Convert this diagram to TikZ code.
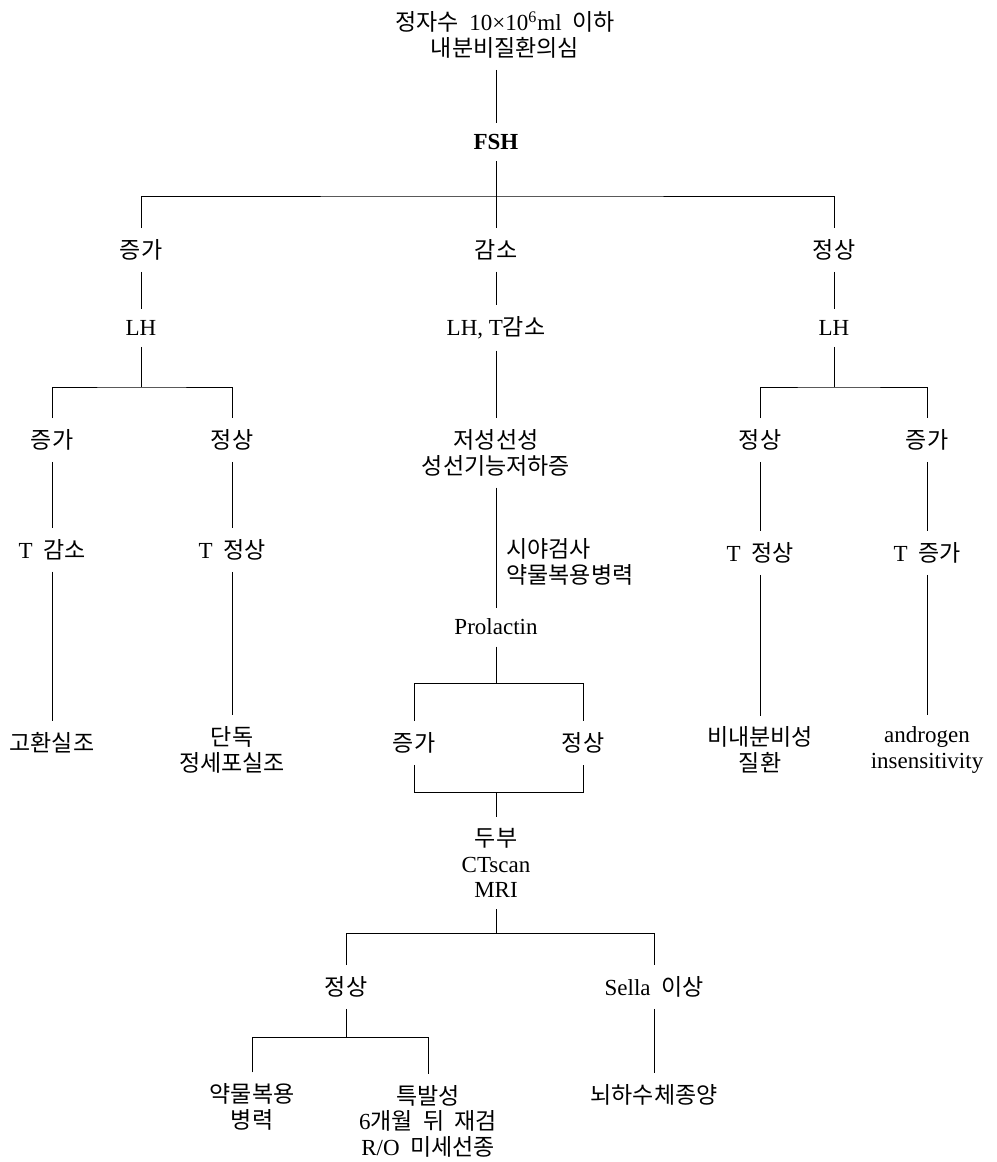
\documentclass[tikz,border=0pt]{standalone}
\usepackage{fontspec}
\setmainfont{Liberation Serif}
\newfontfamily\kr{Noto Sans CJK KR}
\newcommand{\lat}[1]{{\rmfamily #1}}
\newcommand{\gap}{\hspace{0.45em}}
\tikzset{
	item/.style = {align=center, inner xsep=2pt, inner ysep=5.5pt, font=\fontsize{11.5pt}{12.8pt}\selectfont\kr},
	note/.style = {align=left, inner xsep=5pt, font=\fontsize{11.5pt}{12.8pt}\selectfont\kr},
	link/.style = {draw, line width=0.45pt}
}

\begin{document}
\begin{tikzpicture}[x=0.5pt, y=-0.5pt]
		\useasboundingbox (0,0) rectangle (996,1162);
		
		% Start
		\node (sperm) [item] at (505,35) {정자수\gap\lat{10×10\textsuperscript{6}ml}\gap 이하\\내분비질환의심};
		\node (fsh) [item] at (496,142) {\lat{\bfseries FSH}};
		
		% Level 1: FSH result
		\node (fsh_up) [item] at (141,250) {증가};
		\node (fsh_down) [item] at (496,250) {감소};
		\node (fsh_normal) [item] at (834,250) {정상};
		
		% Level 2: LH
		\node (lh_left) [item] at (141,328) {\lat{LH}};
		\node (lh_mid) [item] at (496,328) {\lat{LH, T}감소};
		\node (lh_right) [item] at (834,328) {\lat{LH}};
		
		% Level 3: left branch
		\node (lhl_up) [item] at (52,440) {증가};
		\node (lhl_normal) [item] at (232,440) {정상};
		\node (t_down) [item] at (52,550) {\lat{T}\gap 감소};
		\node (t_normal_l) [item] at (232,550) {\lat{T}\gap 정상};
		\node (testis) [item] at (52,743) {고환실조};
		\node (sertoli) [item] at (232,750) {단독\\정세포실조};
		
		% Level 3: right branch
		\node (lhr_normal) [item] at (760,440) {정상};
		\node (lhr_up) [item] at (927,440) {증가};
		\node (t_normal_r) [item] at (760,553) {\lat{T}\gap 정상};
		\node (t_up) [item] at (927,553) {\lat{T}\gap 증가};
		\node (nonendo) [item] at (760,750) {비내분비성\\질환};
		\node (androgen) [item] at (927,750) {\lat{androgen}\\\lat{insensitivity}};
		
		% Level 3: middle branch
		\node (hypo) [item] at (496,453) {저성선성\\성선기능저하증};
		\node (prolactin) [item] at (496,627) {\lat{Prolactin}};
		\node (prl_up) [item] at (414,743) {증가};
		\node (prl_normal) [item] at (583,743) {정상};
		\node (imaging) [item] at (496,863) {두부\\\lat{CTscan}\\\lat{MRI}};
		\node (img_normal) [item] at (346,987) {정상};
		\node (sella) [item] at (654,987) {\lat{Sella}\gap 이상};
		
		% end
		\node (drug) [item] at (252,1107) {약물복용\\병력};
		\node (idio) [item] at (428,1121) {특발성\\\lat{6}개월\gap 뒤\gap 재검\\\lat{R/O}\gap 미세선종};
		\node (pituitary) [item] at (654,1095) {뇌하수체종양};
		
		% Junctions
		\coordinate (fsh_bar) at (496,196);
		\coordinate (lhl_bar) at (141,387);
		\coordinate (lhr_bar) at (834,387);
		\coordinate (prl_top) at (496,683);
		\coordinate (prl_bot) at (496,792);
		\coordinate (img_bar) at (496,933);
		\coordinate (norm_bar) at (346,1037);
		
		% Lines
		\draw [link] (sperm.south -| fsh) -- (fsh);
		\draw [link] (fsh) -- (fsh_bar);
		\draw [link] (fsh_up) |- (fsh_bar) -| (fsh_normal);
		\draw [link] (fsh_bar) -- (fsh_down);
		\draw [link] (fsh_up) -- (lh_left);
		\draw [link] (fsh_down) -- (lh_mid);
		\draw [link] (fsh_normal) -- (lh_right);
		
		\draw [link] (lh_left) -- (lhl_bar);
		\draw [link] (lhl_up) |- (lhl_bar) -| (lhl_normal);
		\draw [link] (lhl_up) -- (t_down);
		\draw [link] (lhl_normal) -- (t_normal_l);
		\draw [link] (t_down) -- (testis);
		\draw [link] (t_normal_l) -- (sertoli);
		
		\draw [link] (lh_right) -- (lhr_bar);
		\draw [link] (lhr_normal) |- (lhr_bar) -| (lhr_up);
		\draw [link] (lhr_normal) -- (t_normal_r);
		\draw [link] (lhr_up) -- (t_up);
		\draw [link] (t_normal_r) -- (nonendo);
		\draw [link] (t_up) -- (androgen);
		
		\draw [link] (lh_mid) -- (hypo);
		\draw [link] (hypo) -- node [note, pos=0.62, right] {시야검사\\약물복용병력} (prolactin);
		\draw [link] (prolactin) -- (prl_top);
		\draw [link] (prl_up) |- (prl_top) -| (prl_normal);
		\draw [link] (prl_up) |- (prl_bot) -| (prl_normal);
		\draw [link] (prl_bot) -- (imaging);
		\draw [link] (imaging) -- (img_bar);
		\draw [link] (img_normal) |- (img_bar) -| (sella);
		\draw [link] (img_normal) -- (norm_bar);
		\draw [link] (drug) |- (norm_bar) -| (idio);
		\draw [link] (sella) -- (pituitary);
		
	\end{tikzpicture}
\end{document}
